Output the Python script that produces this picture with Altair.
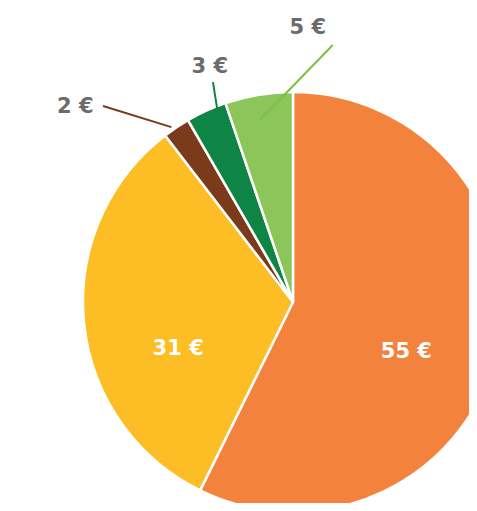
import math
import altair as alt
import pandas as pd

# data
categories = ["A", "B", "C", "D", "E"]
values = [55, 31, 2, 3, 5]
labels = ["55 €", "31 €", "2 €", "3 €", "5 €"]
colors = ["#F3823D", "#FDBD24", "#7B3A1A", "#0E8544", "#8CC65B"]

# label placement (polar: degrees clockwise from top, radius in px)
label_angle = [113.9, 247.8, 311.8, 340.5, 3.1]
label_radius = [124, 124, 292, 249, 274]
inside = [True, True, False, False, False]

# leader lines for outer labels (polar start/end)
lead_cat = ["C", "D", "E"]
lead_color = ["#7B3A1A", "#0E8544", "#7BC043"]
lead_a0 = [315.9, 340.0, 8.8]
lead_r0 = [273, 234, 260]
lead_a1 = [325.2, 338.6, 349.7]
lead_r1 = [213, 208, 185]

CX, CY, R = 285, 294, 210
W, H = 461, 495


def px(a, r):
    return CX + r * math.sin(math.radians(a))


def py(a, r):
    return CY - r * math.cos(math.radians(a))


df = pd.DataFrame({"cat": categories, "value": values, "order": range(len(values))})

lab = pd.DataFrame({
    "label": labels,
    "x": [px(a, r) for a, r in zip(label_angle, label_radius)],
    "y": [py(a, r) for a, r in zip(label_angle, label_radius)],
    "inside": inside,
})

lead = pd.DataFrame({
    "cat": lead_cat,
    "col": lead_color,
    "x": [px(a, r) for a, r in zip(lead_a0, lead_r0)],
    "y": [py(a, r) for a, r in zip(lead_a0, lead_r0)],
    "x2": [px(a, r) for a, r in zip(lead_a1, lead_r1)],
    "y2": [py(a, r) for a, r in zip(lead_a1, lead_r1)],
})

color_scale = alt.Scale(domain=categories, range=colors)

pie = alt.Chart(df).mark_arc(radius=R, stroke="white", strokeWidth=2.5).encode(
    theta=alt.Theta("value:Q", stack=True),
    color=alt.Color("cat:N", scale=color_scale, legend=None),
    order=alt.Order("order:Q"),
    x=alt.value(CX),
    y=alt.value(CY),
)

lines = alt.Chart(lead).mark_rule(strokeWidth=2).encode(
    x=alt.X("x:Q", scale=None, axis=None),
    y=alt.Y("y:Q", scale=None, axis=None),
    x2="x2:Q",
    y2="y2:Q",
    color=alt.Color("col:N", scale=None, legend=None),
)

text = alt.Chart(lab).mark_text(
    font="DejaVu Sans", fontWeight="bold", fontSize=21, align="center", baseline="middle"
).encode(
    x=alt.X("x:Q", scale=None, axis=None),
    y=alt.Y("y:Q", scale=None, axis=None),
    text="label:N",
    color=alt.condition("datum.inside", alt.value("white"), alt.value("#6b6b6b")),
)

chart = alt.layer(pie, lines, text).properties(
    width=W, height=H, padding=0, autosize=alt.AutoSizeParams(type="none")
).configure_view(stroke=None).resolve_scale(color="independent")

chart.save("out.html", embed_options={"renderer": "svg", "actions": False})
